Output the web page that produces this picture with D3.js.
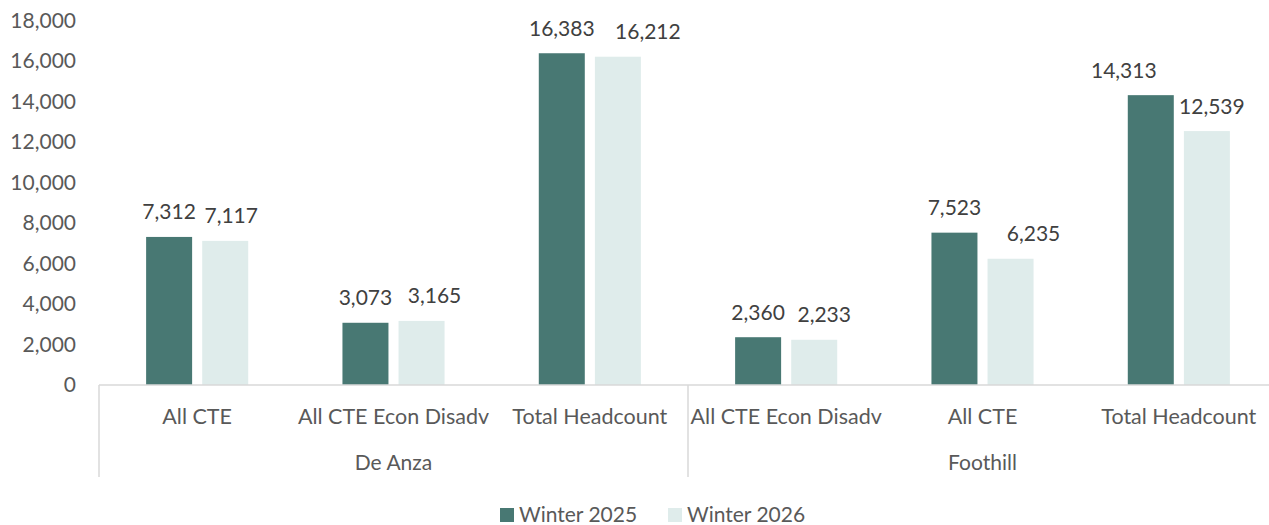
<!DOCTYPE html>
<html>
<head>
	<title>CTE Headcount Winter 2025 vs 2026</title>
	<script src="https://d3js.org/d3.v7.min.js" charset="utf-8"></script>
	<style>
		body { margin: 0; background: #fff; }
		text { font-family: Lato, "Open Sans", sans-serif; fill: #595959; }
	</style>
</head>
<body>
	<svg width="1269" height="525"></svg>
	<script>
		// chart data
		const categories = ['All CTE', 'All CTE Econ Disadv', 'Total Headcount', 'All CTE Econ Disadv', 'All CTE', 'Total Headcount'];
		const groups = ['De Anza', 'Foothill'];
		const series = ['Winter 2025', 'Winter 2026'];
		const winter2025 = [7312, 3073, 16383, 2360, 7523, 14313];
		const winter2026 = [7117, 3165, 16212, 2233, 6235, 12539];
		const yTicks = [0, 2000, 4000, 6000, 8000, 10000, 12000, 14000, 16000, 18000];

		// label nudges (px), the way the labels were placed in the original
		const nudge2025 = [0, 0, 0, 0, 0, -27];
		const nudge2026 = [6, 13, 30, 10, 23, 5];

		const colors = ['#487873', '#dfeceb'];
		const gridColor = '#d9d9d9';

		const plotLeft = 99, plotRight = 1277, plotTop = 20.5, plotBottom = 385;

		const svg = d3.select('svg');
		const fmt = d3.format(',');

		const x = d3.scaleBand()
			.domain(d3.range(categories.length))
			.range([plotLeft, plotRight]);

		const xInner = d3.scaleBand()
			.domain(series)
			.range([0, x.bandwidth()])
			.paddingInner(0.18)
			.paddingOuter(0.84);

		const y = d3.scaleLinear()
			.domain([0, 18000])
			.range([plotBottom, plotTop]);

		// y axis labels only
		const yAxis = svg.append('g')
			.attr('transform', `translate(${plotLeft},0)`)
			.call(d3.axisLeft(y).tickValues(yTicks).tickFormat(fmt).tickSize(0).tickPadding(23));
		yAxis.select('.domain').remove();
		yAxis.selectAll('text')
			.attr('font-size', 21)
			.style('font-family', 'Lato, "Open Sans", sans-serif')
			.attr('fill', '#595959');

		const rows = categories.map((c, i) => ({
			i: i,
			values: [winter2025[i], winter2026[i]],
			nudges: [nudge2025[i], nudge2026[i]]
		}));

		const cat = svg.selectAll('.cat')
			.data(rows)
			.enter().append('g')
			.attr('class', 'cat')
			.attr('transform', d => `translate(${x(d.i)},0)`);

		cat.selectAll('rect')
			.data(d => d.values.map((v, k) => ({ k: k, v: v })))
			.enter().append('rect')
			.attr('x', d => xInner(series[d.k]))
			.attr('y', d => y(d.v))
			.attr('width', xInner.bandwidth())
			.attr('height', d => y(0) - y(d.v))
			.attr('fill', d => colors[d.k]);

		cat.selectAll('.val')
			.data(d => d.values.map((v, k) => ({ k: k, v: v, dx: d.nudges[k] })))
			.enter().append('text')
			.attr('class', 'val')
			.attr('x', d => xInner(series[d.k]) + xInner.bandwidth() / 2 + d.dx)
			.attr('y', d => y(d.v) - 17.5)
			.attr('text-anchor', 'middle')
			.attr('font-size', 21)
			.style('fill', '#404040')
			.text(d => fmt(d.v));

		// baseline
		svg.append('line')
			.attr('x1', plotLeft).attr('x2', plotRight)
			.attr('y1', plotBottom).attr('y2', plotBottom)
			.attr('stroke', gridColor).attr('stroke-width', 1.5);

		// category labels
		svg.selectAll('.catlabel')
			.data(categories)
			.enter().append('text')
			.attr('x', (d, i) => x(i) + x.bandwidth() / 2)
			.attr('y', 424)
			.attr('text-anchor', 'middle')
			.attr('font-size', 21.5)
			.text(d => d);

		// group separators and labels
		const perGroup = categories.length / groups.length;
		const seps = d3.range(groups.length + 1).map(g => g === groups.length ? plotRight : x(g * perGroup));
		svg.selectAll('.sep')
			.data(seps)
			.enter().append('line')
			.attr('x1', d => d).attr('x2', d => d)
			.attr('y1', plotBottom).attr('y2', 477)
			.attr('stroke', gridColor).attr('stroke-width', 1.5);

		svg.selectAll('.grouplabel')
			.data(groups)
			.enter().append('text')
			.attr('x', (d, g) => (seps[g] + seps[g + 1]) / 2)
			.attr('y', 470)
			.attr('text-anchor', 'middle')
			.attr('font-size', 21)
			.text(d => d);

		// legend
		const legendX = [500, 668];
		const legend = svg.selectAll('.legend')
			.data(series)
			.enter().append('g')
			.attr('transform', (d, k) => `translate(${legendX[k]},508)`);
		legend.append('rect')
			.attr('width', 14).attr('height', 14)
			.attr('fill', (d, k) => colors[k]);
		legend.append('text')
			.attr('x', 19).attr('y', 14)
			.attr('font-size', 21)
			.text(d => d);
	</script>
</body>
</html>
